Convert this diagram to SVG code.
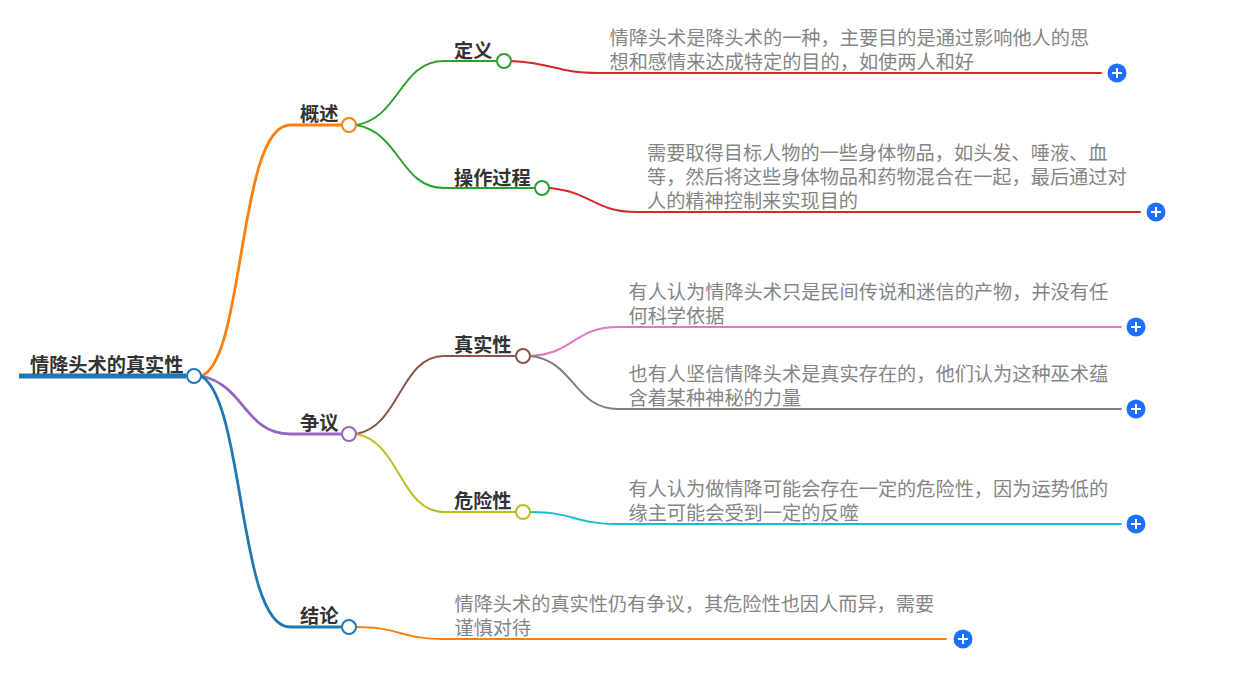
<svg xmlns="http://www.w3.org/2000/svg" width="1235" height="689" viewBox="0 0 1235 689">
<style>
text{font-family:"Noto Sans CJK SC","Noto Sans",sans-serif;font-size:19.2px}
.t{font-weight:700;fill:#333}
.d{fill:#858585;font-weight:400}
.c{fill:none;stroke-linecap:round}
.n{fill:#fff;stroke-width:2}
.p{fill:#1e6fff}
.x{stroke:#fff;stroke-width:2;fill:none}
</style>
<rect width="1235" height="689" fill="#fff"/>
<g id="connectors">
<path class="c" d="M19 376H186" stroke="#1f77b4" stroke-width="5" style="stroke-linecap:butt"/>
<path class="c" d="M201 376C245 362 238 125 290 125H341" stroke="#ff7f0e" stroke-width="2.8"/>
<path class="c" d="M201 376C245 385 245 434 290 434H341" stroke="#9467bd" stroke-width="2.8"/>
<path class="c" d="M201 376C245 400 238 627 290 627H341" stroke="#1f77b4" stroke-width="2.8"/>
<path class="c" d="M356 125C400 118 400 61 444 61H496" stroke="#2ca02c" stroke-width="2"/>
<path class="c" d="M356 125C400 132 400 188 444 188H534" stroke="#2ca02c" stroke-width="2"/>
<path class="c" d="M356 434C400 427 400 356 444 356H515" stroke="#8c564b" stroke-width="2"/>
<path class="c" d="M356 434C400 441 400 512 444 512H515" stroke="#bcbd22" stroke-width="2"/>
<path class="c" d="M356 627C400 627 400 639 444 639H946" stroke="#ff7f0e" stroke-width="2"/>
<path class="c" d="M511 61C555 63 555 73 599 73H1101" stroke="#d62728" stroke-width="2"/>
<path class="c" d="M549 188C593 192 593 212 637 212H1140" stroke="#d62728" stroke-width="2"/>
<path class="c" d="M530 356C574 354 574 327 618 327H1121" stroke="#e377c2" stroke-width="2"/>
<path class="c" d="M530 356C574 360 574 409 618 409H1121" stroke="#7f7f7f" stroke-width="2"/>
<path class="c" d="M530 512C574 512 574 524 618 524H1121" stroke="#17becf" stroke-width="2"/>
</g>
<g id="root"><text class="t" x="30" y="372">情降头术的真实性</text><circle class="n" cx="194" cy="376" r="7" stroke="#1f77b4"/></g>
<g id="n-overview"><text class="t" x="300" y="121">概述</text><circle class="n" cx="349" cy="125" r="7" stroke="#ff7f0e"/></g>
<g id="n-dispute"><text class="t" x="300" y="430">争议</text><circle class="n" cx="349" cy="434" r="7" stroke="#9467bd"/></g>
<g id="n-conclusion"><text class="t" x="300" y="623">结论</text><circle class="n" cx="349" cy="627" r="7" stroke="#1f77b4"/></g>
<g id="n-def"><text class="t" x="454" y="58">定义</text><circle class="n" cx="504" cy="61" r="7" stroke="#2ca02c"/></g>
<g id="n-proc"><text class="t" x="454" y="185">操作过程</text><circle class="n" cx="542" cy="188" r="7" stroke="#2ca02c"/></g>
<g id="n-real"><text class="t" x="454" y="352">真实性</text><circle class="n" cx="523" cy="356" r="7" stroke="#8c564b"/></g>
<g id="n-risk"><text class="t" x="454" y="508">危险性</text><circle class="n" cx="523" cy="512" r="7" stroke="#bcbd22"/></g>
<g id="l-def"><text class="d" x="609.500" y="45">情降头术是降头术的一种，主要目的是通过影响他人的思</text><text class="d" x="609.500" y="69">想和感情来达成特定的目的，如使两人和好</text><circle class="p" cx="1117" cy="73" r="9.5"/><path class="x" d="M1112 73H1122M1117 68V78"/></g>
<g id="l-proc"><text class="d" x="647" y="160">需要取得目标人物的一些身体物品，如头发、唾液、血</text><text class="d" x="647" y="184">等，然后将这些身体物品和药物混合在一起，最后通过对</text><text class="d" x="647" y="208">人的精神控制来实现目的</text><circle class="p" cx="1156" cy="212" r="9.5"/><path class="x" d="M1151 212H1161M1156 207V217"/></g>
<g id="l-real1"><text class="d" x="628.500" y="299">有人认为情降头术只是民间传说和迷信的产物，并没有任</text><text class="d" x="628.500" y="323">何科学依据</text><circle class="p" cx="1136" cy="327" r="9.5"/><path class="x" d="M1131 327H1141M1136 322V332"/></g>
<g id="l-real2"><text class="d" x="628.500" y="381">也有人坚信情降头术是真实存在的，他们认为这种巫术蕴</text><text class="d" x="628.500" y="405">含着某种神秘的力量</text><circle class="p" cx="1136" cy="409" r="9.5"/><path class="x" d="M1131 409H1141M1136 404V414"/></g>
<g id="l-risk"><text class="d" x="628.500" y="496">有人认为做情降可能会存在一定的危险性，因为运势低的</text><text class="d" x="628.500" y="520">缘主可能会受到一定的反噬</text><circle class="p" cx="1136" cy="524" r="9.5"/><path class="x" d="M1131 524H1141M1136 519V529"/></g>
<g id="l-con"><text class="d" x="454.500" y="611">情降头术的真实性仍有争议，其危险性也因人而异，需要</text><text class="d" x="454.500" y="635">谨慎对待</text><circle class="p" cx="963" cy="639" r="9.5"/><path class="x" d="M958 639H968M963 634V644"/></g>
</svg>
